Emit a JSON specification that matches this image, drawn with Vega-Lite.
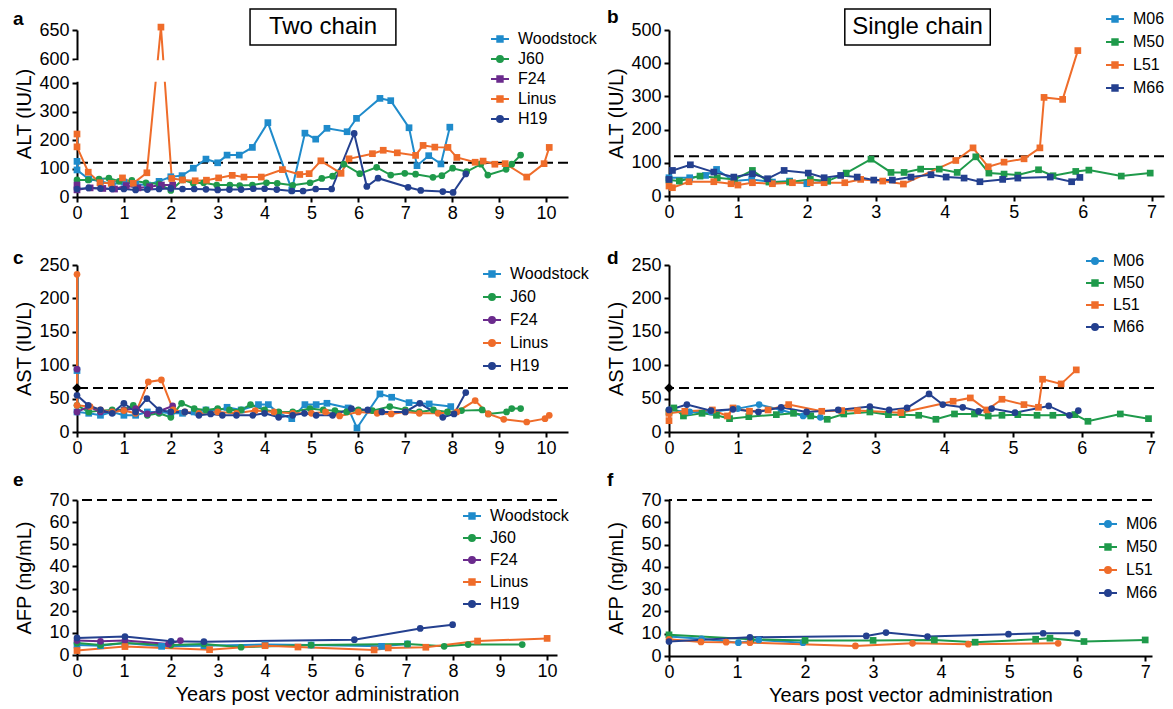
{
"$schema": "https://vega.github.io/schema/vega-lite/v6.json",
"padding": {"left": 13, "top": 8, "right": 0, "bottom": 0},
"config": {
  "font": "Liberation Sans",
  "view": {"stroke": null},
  "axis": {"domainColor": "black", "domainWidth": 2, "tickColor": "black", "tickWidth": 2, "tickSize": 5, "labelFontSize": 18, "labelColor": "black", "titleFontSize": 20, "titleFontWeight": "normal", "titleColor": "black", "grid": false, "labelFlush": false, "labelOverlap": false, "zindex": 0, "format": "d", "tickCount": 30},
  "axisX": {"labelPadding": 2, "titlePadding": 4},
  "axisY": {"labelPadding": 3, "titlePadding": 4},
  "title": {"fontSize": 19, "fontWeight": "bold", "color": "black", "offset": 0, "anchor": "start", "frame": "group"},
  "legend": {"labelFontSize": 16, "labelColor": "black", "padding": 0, "symbolStrokeWidth": 2, "symbolSize": 324, "labelOffset": 8}
},
"datasets": {
"a": [
{"s":"Woodstock","t":0,"v":125},{"s":"Woodstock","t":0,"v":95},{"s":"Woodstock","t":0.25,"v":63},{"s":"Woodstock","t":0.5,"v":55},{"s":"Woodstock","t":0.75,"v":45},{"s":"Woodstock","t":1,"v":52},{"s":"Woodstock","t":1.25,"v":45},{"s":"Woodstock","t":1.5,"v":42},{"s":"Woodstock","t":1.75,"v":55},{"s":"Woodstock","t":2,"v":71},{"s":"Woodstock","t":2.24,"v":75},{"s":"Woodstock","t":2.48,"v":101},{"s":"Woodstock","t":2.75,"v":133},{"s":"Woodstock","t":3,"v":120},{"s":"Woodstock","t":3.2,"v":147},{"s":"Woodstock","t":3.46,"v":147},{"s":"Woodstock","t":3.74,"v":174},{"s":"Woodstock","t":4.07,"v":261},{"s":"Woodstock","t":4.58,"v":25},{"s":"Woodstock","t":4.86,"v":224},{"s":"Woodstock","t":5.09,"v":203},{"s":"Woodstock","t":5.33,"v":241},{"s":"Woodstock","t":5.76,"v":229},{"s":"Woodstock","t":5.96,"v":276},{"s":"Woodstock","t":6.46,"v":346},{"s":"Woodstock","t":6.69,"v":338},{"s":"Woodstock","t":7.08,"v":243},{"s":"Woodstock","t":7.25,"v":110},{"s":"Woodstock","t":7.5,"v":145},{"s":"Woodstock","t":7.76,"v":116},{"s":"Woodstock","t":7.95,"v":245},
{"s":"J60","t":0,"v":60},{"s":"J60","t":0.24,"v":60},{"s":"J60","t":0.47,"v":63},{"s":"J60","t":0.68,"v":66},{"s":"J60","t":0.9,"v":55},{"s":"J60","t":1.17,"v":58},{"s":"J60","t":1.47,"v":50},{"s":"J60","t":1.75,"v":46},{"s":"J60","t":2,"v":23},{"s":"J60","t":2.25,"v":60},{"s":"J60","t":2.48,"v":48},{"s":"J60","t":2.7,"v":50},{"s":"J60","t":2.98,"v":42},{"s":"J60","t":3.26,"v":42},{"s":"J60","t":3.47,"v":40},{"s":"J60","t":3.74,"v":42},{"s":"J60","t":4.04,"v":50},{"s":"J60","t":4.27,"v":48},{"s":"J60","t":4.6,"v":41},{"s":"J60","t":4.97,"v":50},{"s":"J60","t":5.22,"v":65},{"s":"J60","t":5.45,"v":73},{"s":"J60","t":5.69,"v":115},{"s":"J60","t":6.03,"v":82},{"s":"J60","t":6.39,"v":104},{"s":"J60","t":6.69,"v":77},{"s":"J60","t":6.99,"v":83},{"s":"J60","t":7.22,"v":80},{"s":"J60","t":7.59,"v":69},{"s":"J60","t":7.78,"v":75},{"s":"J60","t":8.01,"v":101},{"s":"J60","t":8.31,"v":89},{"s":"J60","t":8.61,"v":115},{"s":"J60","t":8.76,"v":77},{"s":"J60","t":9.15,"v":97},{"s":"J60","t":9.27,"v":115},{"s":"J60","t":9.46,"v":147},
{"s":"F24","t":0,"v":42},{"s":"F24","t":0,"v":25},{"s":"F24","t":0.28,"v":32},{"s":"F24","t":0.55,"v":30},{"s":"F24","t":0.8,"v":28},{"s":"F24","t":1.05,"v":40},{"s":"F24","t":1.3,"v":32},{"s":"F24","t":1.55,"v":36},{"s":"F24","t":1.8,"v":42},{"s":"F24","t":2.04,"v":42},
{"s":"Linus","t":0,"v":221},{"s":"Linus","t":0,"v":176},{"s":"Linus","t":0.24,"v":87},{"s":"Linus","t":0.49,"v":50},{"s":"Linus","t":0.73,"v":48},{"s":"Linus","t":0.97,"v":67},{"s":"Linus","t":1.2,"v":48},{"s":"Linus","t":1.49,"v":85},{"s":"Linus","t":1.79,"v":655},{"s":"Linus","t":2.02,"v":65},{"s":"Linus","t":2.25,"v":60},{"s":"Linus","t":2.52,"v":57},{"s":"Linus","t":2.76,"v":59},{"s":"Linus","t":3.02,"v":67},{"s":"Linus","t":3.31,"v":76},{"s":"Linus","t":3.56,"v":70},{"s":"Linus","t":3.93,"v":70},{"s":"Linus","t":4.38,"v":96},{"s":"Linus","t":4.75,"v":79},{"s":"Linus","t":4.95,"v":82},{"s":"Linus","t":5.2,"v":127},{"s":"Linus","t":5.63,"v":83},{"s":"Linus","t":5.8,"v":134},{"s":"Linus","t":6.3,"v":152},{"s":"Linus","t":6.53,"v":164},{"s":"Linus","t":6.83,"v":155},{"s":"Linus","t":7.22,"v":146},{"s":"Linus","t":7.38,"v":181},{"s":"Linus","t":7.63,"v":175},{"s":"Linus","t":7.91,"v":174},{"s":"Linus","t":8.1,"v":139},{"s":"Linus","t":8.49,"v":122},{"s":"Linus","t":8.66,"v":126},{"s":"Linus","t":8.91,"v":115},{"s":"Linus","t":9.13,"v":117},{"s":"Linus","t":9.59,"v":70},{"s":"Linus","t":9.96,"v":117},{"s":"Linus","t":10.07,"v":174},
{"s":"H19","t":0,"v":28},{"s":"H19","t":0.25,"v":32},{"s":"H19","t":0.5,"v":30},{"s":"H19","t":0.75,"v":28},{"s":"H19","t":1,"v":28},{"s":"H19","t":1.25,"v":25},{"s":"H19","t":1.5,"v":26},{"s":"H19","t":1.75,"v":28},{"s":"H19","t":2,"v":30},{"s":"H19","t":2.25,"v":28},{"s":"H19","t":2.5,"v":28},{"s":"H19","t":2.75,"v":27},{"s":"H19","t":3,"v":25},{"s":"H19","t":3.25,"v":26},{"s":"H19","t":3.5,"v":26},{"s":"H19","t":3.76,"v":29},{"s":"H19","t":4,"v":29},{"s":"H19","t":4.26,"v":26},{"s":"H19","t":4.58,"v":21},{"s":"H19","t":4.82,"v":21},{"s":"H19","t":5.09,"v":28},{"s":"H19","t":5.43,"v":28},{"s":"H19","t":5.91,"v":223},{"s":"H19","t":6.18,"v":37},{"s":"H19","t":6.42,"v":66},{"s":"H19","t":7.06,"v":34},{"s":"H19","t":7.33,"v":23},{"s":"H19","t":7.8,"v":19},{"s":"H19","t":8.02,"v":16},{"s":"H19","t":8.29,"v":81}
],
"b": [
{"s":"M06","t":0,"v":55},{"s":"M06","t":0.3,"v":55},{"s":"M06","t":0.53,"v":62},{"s":"M06","t":0.69,"v":80},{"s":"M06","t":0.94,"v":45},{"s":"M06","t":1.2,"v":50},{"s":"M06","t":1.5,"v":42},{"s":"M06","t":1.75,"v":45},{"s":"M06","t":2,"v":37},{"s":"M06","t":2.3,"v":45},
{"s":"M50","t":0,"v":48},{"s":"M50","t":0.15,"v":45},{"s":"M50","t":0.45,"v":60},{"s":"M50","t":0.7,"v":55},{"s":"M50","t":0.95,"v":50},{"s":"M50","t":1.21,"v":77},{"s":"M50","t":1.45,"v":42},{"s":"M50","t":1.75,"v":42},{"s":"M50","t":2.05,"v":50},{"s":"M50","t":2.3,"v":45},{"s":"M50","t":2.57,"v":69},{"s":"M50","t":2.93,"v":111},{"s":"M50","t":3.22,"v":71},{"s":"M50","t":3.41,"v":71},{"s":"M50","t":3.65,"v":81},{"s":"M50","t":3.92,"v":81},{"s":"M50","t":4.18,"v":71},{"s":"M50","t":4.45,"v":118},{"s":"M50","t":4.64,"v":69},{"s":"M50","t":4.86,"v":66},{"s":"M50","t":5.06,"v":63},{"s":"M50","t":5.36,"v":79},{"s":"M50","t":5.57,"v":61},{"s":"M50","t":5.9,"v":74},{"s":"M50","t":6.09,"v":78},{"s":"M50","t":6.56,"v":60},{"s":"M50","t":6.98,"v":69},
{"s":"L51","t":0,"v":30},{"s":"L51","t":0.05,"v":25},{"s":"L51","t":0.29,"v":43},{"s":"L51","t":0.65,"v":43},{"s":"L51","t":0.9,"v":37},{"s":"L51","t":1,"v":33},{"s":"L51","t":1.21,"v":40},{"s":"L51","t":1.5,"v":37},{"s":"L51","t":1.79,"v":40},{"s":"L51","t":2.05,"v":40},{"s":"L51","t":2.25,"v":40},{"s":"L51","t":2.55,"v":40},{"s":"L51","t":2.78,"v":50},{"s":"L51","t":3.1,"v":45},{"s":"L51","t":3.4,"v":36},{"s":"L51","t":4.16,"v":107},{"s":"L51","t":4.41,"v":145},{"s":"L51","t":4.63,"v":88},{"s":"L51","t":4.86,"v":102},{"s":"L51","t":5.15,"v":112},{"s":"L51","t":5.38,"v":145},{"s":"L51","t":5.44,"v":297},{"s":"L51","t":5.71,"v":291},{"s":"L51","t":5.93,"v":438},
{"s":"M66","t":0,"v":50},{"s":"M66","t":0.05,"v":77},{"s":"M66","t":0.31,"v":94},{"s":"M66","t":0.65,"v":72},{"s":"M66","t":0.94,"v":57},{"s":"M66","t":1.21,"v":67},{"s":"M66","t":1.43,"v":52},{"s":"M66","t":1.67,"v":77},{"s":"M66","t":2.02,"v":69},{"s":"M66","t":2.25,"v":55},{"s":"M66","t":2.49,"v":62},{"s":"M66","t":2.73,"v":57},{"s":"M66","t":2.97,"v":48},{"s":"M66","t":3.24,"v":48},{"s":"M66","t":3.51,"v":57},{"s":"M66","t":3.8,"v":64},{"s":"M66","t":4.02,"v":57},{"s":"M66","t":4.28,"v":54},{"s":"M66","t":4.51,"v":43},{"s":"M66","t":4.84,"v":50},{"s":"M66","t":5.06,"v":54},{"s":"M66","t":5.53,"v":57},{"s":"M66","t":5.84,"v":43},{"s":"M66","t":5.96,"v":56}
],
"c": [
{"s":"Woodstock","t":0,"v":92},{"s":"Woodstock","t":0,"v":30},{"s":"Woodstock","t":0.25,"v":28},{"s":"Woodstock","t":0.5,"v":25},{"s":"Woodstock","t":0.75,"v":30},{"s":"Woodstock","t":1,"v":25},{"s":"Woodstock","t":1.25,"v":25},{"s":"Woodstock","t":1.5,"v":30},{"s":"Woodstock","t":1.75,"v":30},{"s":"Woodstock","t":2,"v":28},{"s":"Woodstock","t":2.25,"v":28},{"s":"Woodstock","t":2.5,"v":30},{"s":"Woodstock","t":2.75,"v":33},{"s":"Woodstock","t":3,"v":32},{"s":"Woodstock","t":3.2,"v":37},{"s":"Woodstock","t":3.5,"v":33},{"s":"Woodstock","t":3.87,"v":41},{"s":"Woodstock","t":4.08,"v":41},{"s":"Woodstock","t":4.3,"v":28},{"s":"Woodstock","t":4.58,"v":20},{"s":"Woodstock","t":4.86,"v":41},{"s":"Woodstock","t":5.1,"v":41},{"s":"Woodstock","t":5.33,"v":43},{"s":"Woodstock","t":5.78,"v":36},{"s":"Woodstock","t":5.97,"v":6},{"s":"Woodstock","t":6.46,"v":57},{"s":"Woodstock","t":6.71,"v":52},{"s":"Woodstock","t":7.08,"v":44},{"s":"Woodstock","t":7.51,"v":42},{"s":"Woodstock","t":7.97,"v":38},
{"s":"J60","t":0,"v":40},{"s":"J60","t":0.25,"v":30},{"s":"J60","t":0.5,"v":32},{"s":"J60","t":0.75,"v":33},{"s":"J60","t":1,"v":33},{"s":"J60","t":1.2,"v":40},{"s":"J60","t":1.5,"v":25},{"s":"J60","t":1.75,"v":28},{"s":"J60","t":2,"v":22},{"s":"J60","t":2.23,"v":43},{"s":"J60","t":2.5,"v":35},{"s":"J60","t":2.75,"v":33},{"s":"J60","t":3,"v":35},{"s":"J60","t":3.25,"v":33},{"s":"J60","t":3.5,"v":33},{"s":"J60","t":3.7,"v":41},{"s":"J60","t":4,"v":33},{"s":"J60","t":4.3,"v":30},{"s":"J60","t":4.6,"v":30},{"s":"J60","t":4.97,"v":35},{"s":"J60","t":5.25,"v":33},{"s":"J60","t":5.5,"v":32},{"s":"J60","t":5.75,"v":30},{"s":"J60","t":6,"v":33},{"s":"J60","t":6.3,"v":32},{"s":"J60","t":6.67,"v":38},{"s":"J60","t":7,"v":33},{"s":"J60","t":7.3,"v":30},{"s":"J60","t":7.6,"v":33},{"s":"J60","t":7.9,"v":30},{"s":"J60","t":8.2,"v":32},{"s":"J60","t":8.64,"v":33},{"s":"J60","t":8.77,"v":27},{"s":"J60","t":9.16,"v":30},{"s":"J60","t":9.27,"v":35},{"s":"J60","t":9.46,"v":35},
{"s":"F24","t":0,"v":94},{"s":"F24","t":0,"v":30},{"s":"F24","t":0.25,"v":38},{"s":"F24","t":0.5,"v":30},{"s":"F24","t":0.75,"v":30},{"s":"F24","t":1,"v":33},{"s":"F24","t":1.25,"v":35},{"s":"F24","t":1.5,"v":27},{"s":"F24","t":1.75,"v":31},{"s":"F24","t":2.04,"v":39},
{"s":"Linus","t":0,"v":236},{"s":"Linus","t":0,"v":40},{"s":"Linus","t":0.28,"v":38},{"s":"Linus","t":0.5,"v":33},{"s":"Linus","t":0.75,"v":30},{"s":"Linus","t":1,"v":32},{"s":"Linus","t":1.25,"v":28},{"s":"Linus","t":1.52,"v":75},{"s":"Linus","t":1.8,"v":78},{"s":"Linus","t":2.05,"v":33},{"s":"Linus","t":2.3,"v":30},{"s":"Linus","t":2.6,"v":28},{"s":"Linus","t":3,"v":30},{"s":"Linus","t":3.4,"v":28},{"s":"Linus","t":3.8,"v":32},{"s":"Linus","t":4.2,"v":30},{"s":"Linus","t":4.6,"v":28},{"s":"Linus","t":5,"v":28},{"s":"Linus","t":5.3,"v":30},{"s":"Linus","t":5.6,"v":24},{"s":"Linus","t":6,"v":30},{"s":"Linus","t":6.4,"v":28},{"s":"Linus","t":6.7,"v":27},{"s":"Linus","t":7,"v":30},{"s":"Linus","t":7.3,"v":28},{"s":"Linus","t":7.7,"v":28},{"s":"Linus","t":8.1,"v":30},{"s":"Linus","t":8.49,"v":47},{"s":"Linus","t":8.77,"v":27},{"s":"Linus","t":9.1,"v":19},{"s":"Linus","t":9.59,"v":15},{"s":"Linus","t":9.98,"v":20},{"s":"Linus","t":10.07,"v":25},
{"s":"H19","t":0,"v":55},{"s":"H19","t":0.24,"v":40},{"s":"H19","t":0.5,"v":33},{"s":"H19","t":0.75,"v":28},{"s":"H19","t":1,"v":43},{"s":"H19","t":1.25,"v":30},{"s":"H19","t":1.49,"v":50},{"s":"H19","t":1.75,"v":33},{"s":"H19","t":2,"v":30},{"s":"H19","t":2.3,"v":30},{"s":"H19","t":2.6,"v":25},{"s":"H19","t":2.85,"v":27},{"s":"H19","t":3.1,"v":25},{"s":"H19","t":3.4,"v":25},{"s":"H19","t":3.75,"v":25},{"s":"H19","t":4,"v":28},{"s":"H19","t":4.3,"v":22},{"s":"H19","t":4.6,"v":25},{"s":"H19","t":4.85,"v":28},{"s":"H19","t":5.1,"v":25},{"s":"H19","t":5.45,"v":25},{"s":"H19","t":5.85,"v":35},{"s":"H19","t":6.2,"v":33},{"s":"H19","t":6.5,"v":30},{"s":"H19","t":7,"v":30},{"s":"H19","t":7.31,"v":43},{"s":"H19","t":7.8,"v":22},{"s":"H19","t":8.04,"v":27},{"s":"H19","t":8.29,"v":59}
],
"d": [
{"s":"M06","t":0,"v":33},{"s":"M06","t":0.3,"v":30},{"s":"M06","t":0.61,"v":30},{"s":"M06","t":1,"v":35},{"s":"M06","t":1.31,"v":41},{"s":"M06","t":1.63,"v":33},{"s":"M06","t":1.95,"v":24},{"s":"M06","t":2.2,"v":22},
{"s":"M50","t":0,"v":30},{"s":"M50","t":0.07,"v":36},{"s":"M50","t":0.21,"v":24},{"s":"M50","t":0.48,"v":28},{"s":"M50","t":0.69,"v":25},{"s":"M50","t":0.88,"v":20},{"s":"M50","t":1.16,"v":23},{"s":"M50","t":1.56,"v":26},{"s":"M50","t":1.81,"v":28},{"s":"M50","t":2.06,"v":24},{"s":"M50","t":2.3,"v":19},{"s":"M50","t":2.54,"v":27},{"s":"M50","t":2.92,"v":30},{"s":"M50","t":3.19,"v":26},{"s":"M50","t":3.39,"v":26},{"s":"M50","t":3.63,"v":25},{"s":"M50","t":3.88,"v":19},{"s":"M50","t":4.15,"v":27},{"s":"M50","t":4.44,"v":27},{"s":"M50","t":4.64,"v":24},{"s":"M50","t":4.84,"v":25},{"s":"M50","t":5.07,"v":26},{"s":"M50","t":5.35,"v":25},{"s":"M50","t":5.58,"v":25},{"s":"M50","t":5.9,"v":26},{"s":"M50","t":6.09,"v":16},{"s":"M50","t":6.56,"v":27},{"s":"M50","t":6.97,"v":20},
{"s":"L51","t":0,"v":17},{"s":"L51","t":0,"v":28},{"s":"L51","t":0.23,"v":31},{"s":"L51","t":0.63,"v":33},{"s":"L51","t":0.85,"v":24},{"s":"L51","t":0.93,"v":36},{"s":"L51","t":1.17,"v":31},{"s":"L51","t":1.44,"v":33},{"s":"L51","t":1.74,"v":41},{"s":"L51","t":2.22,"v":31},{"s":"L51","t":2.51,"v":32},{"s":"L51","t":2.74,"v":32},{"s":"L51","t":3.37,"v":29},{"s":"L51","t":4.13,"v":46},{"s":"L51","t":4.38,"v":51},{"s":"L51","t":4.62,"v":33},{"s":"L51","t":4.84,"v":49},{"s":"L51","t":5.16,"v":41},{"s":"L51","t":5.37,"v":37},{"s":"L51","t":5.43,"v":79},{"s":"L51","t":5.7,"v":72},{"s":"L51","t":5.92,"v":93},
{"s":"M66","t":0,"v":33},{"s":"M66","t":0.26,"v":41},{"s":"M66","t":0.61,"v":32},{"s":"M66","t":0.93,"v":34},{"s":"M66","t":1.3,"v":30},{"s":"M66","t":1.63,"v":37},{"s":"M66","t":2,"v":30},{"s":"M66","t":2.46,"v":33},{"s":"M66","t":2.92,"v":38},{"s":"M66","t":3.2,"v":33},{"s":"M66","t":3.46,"v":36},{"s":"M66","t":3.78,"v":57},{"s":"M66","t":3.98,"v":41},{"s":"M66","t":4.27,"v":37},{"s":"M66","t":4.5,"v":31},{"s":"M66","t":4.69,"v":35},{"s":"M66","t":5.03,"v":29},{"s":"M66","t":5.52,"v":39},{"s":"M66","t":5.82,"v":25},{"s":"M66","t":5.95,"v":32}
],
"e": [
{"s":"Woodstock","t":0,"v":4.5},{"s":"Woodstock","t":0.5,"v":4.2},{"s":"Woodstock","t":1.02,"v":5.4},{"s":"Woodstock","t":1.8,"v":3.9},{"s":"Woodstock","t":2.7,"v":4.2},{"s":"Woodstock","t":4,"v":4.7},{"s":"Woodstock","t":4.98,"v":4.5},{"s":"Woodstock","t":6.48,"v":3.9},{"s":"Woodstock","t":7.03,"v":5},
{"s":"J60","t":0,"v":5.4},{"s":"J60","t":0.5,"v":4.5},{"s":"J60","t":1.02,"v":5.4},{"s":"J60","t":2,"v":4.5},{"s":"J60","t":2.7,"v":5},{"s":"J60","t":3.49,"v":3.5},{"s":"J60","t":4.98,"v":4.5},{"s":"J60","t":7.03,"v":5},{"s":"J60","t":7.81,"v":3.9},{"s":"J60","t":8.32,"v":4.7},{"s":"J60","t":9.47,"v":4.7},
{"s":"F24","t":0,"v":6.5},{"s":"F24","t":0.5,"v":6.2},{"s":"F24","t":1.02,"v":6.6},{"s":"F24","t":1.95,"v":5},{"s":"F24","t":2.2,"v":6.5},
{"s":"Linus","t":0,"v":2},{"s":"Linus","t":1.02,"v":3.8},{"s":"Linus","t":2.82,"v":2.4},{"s":"Linus","t":4,"v":4.2},{"s":"Linus","t":4.7,"v":3.6},{"s":"Linus","t":6.32,"v":2.3},{"s":"Linus","t":6.62,"v":3.2},{"s":"Linus","t":7.42,"v":3.5},{"s":"Linus","t":8.52,"v":6.3},{"s":"Linus","t":10,"v":7.5},
{"s":"H19","t":0,"v":7.7},{"s":"H19","t":1.02,"v":8.3},{"s":"H19","t":2,"v":6.2},{"s":"H19","t":2.7,"v":6},{"s":"H19","t":5.9,"v":6.9},{"s":"H19","t":7.3,"v":12},{"s":"H19","t":7.99,"v":13.7}
],
"f": [
{"s":"M06","t":0,"v":8.7},{"s":"M06","t":0.48,"v":7.7},{"s":"M06","t":1.02,"v":6},{"s":"M06","t":1.32,"v":7.2},{"s":"M06","t":1.97,"v":6},
{"s":"M50","t":0,"v":9.5},{"s":"M50","t":1.2,"v":7.5},{"s":"M50","t":2,"v":7},{"s":"M50","t":3,"v":7},{"s":"M50","t":3.9,"v":7.2},{"s":"M50","t":4.5,"v":6.2},{"s":"M50","t":5.39,"v":7.5},{"s":"M50","t":5.6,"v":8},{"s":"M50","t":6.1,"v":6.5},{"s":"M50","t":7,"v":7.2},
{"s":"L51","t":0,"v":7.5},{"s":"L51","t":0.47,"v":6.3},{"s":"L51","t":0.84,"v":6.2},{"s":"L51","t":1.19,"v":6},{"s":"L51","t":2.74,"v":4.5},{"s":"L51","t":3.58,"v":5.7},{"s":"L51","t":4.4,"v":5.3},{"s":"L51","t":5.72,"v":5.7},
{"s":"M66","t":0,"v":6.5},{"s":"M66","t":1.19,"v":8.4},{"s":"M66","t":2.9,"v":9},{"s":"M66","t":3.19,"v":10.5},{"s":"M66","t":3.8,"v":8.7},{"s":"M66","t":4.99,"v":9.8},{"s":"M66","t":5.5,"v":10.2},{"s":"M66","t":6,"v":10.2}
]
},
"columns": 2,
"spacing": {"row": 68, "column": 101},
"bounds": "flush",
"resolve": {"scale": {"x": "independent", "y": "independent", "color": "independent", "shape": "independent", "fill": "independent", "stroke": "independent"}},
"concat": [
{
 "width": 491, "height": 167,
 "title": {"text": "a", "dx": -64, "dy": 25},
 "layer": [
  {"data": {"values": [{}]}, "mark": {"type": "rule", "strokeDash": [10, 5], "strokeWidth": 2, "color": "black"}, "encoding": {"y": {"datum": 120, "type": "quantitative"}}},
  {"data": {"name": "a"}, "mark": {"type": "line", "strokeWidth": 2}, "encoding": {
    "x": {"field": "t", "type": "quantitative", "scale": {"domain": [0, 10.47], "nice": false}, "axis": {"values": [0,1,2,3,4,5,6,7,8,9,10], "title": null, "labelOverlap": false, "tickCount": 30}},
    "y": {"field": "v", "type": "quantitative", "scale": {"domain": [0, 400, 600, 650], "range": [167, 53, 29, 0], "nice": false}, "axis": {"values": [0,100,200,300,400,600,650], "title": "ALT (IU/L)", "labelOverlap": false, "tickCount": 30}},
    "color": {"field": "s", "type": "nominal", "scale": {"domain": ["Woodstock","J60","F24","Linus","H19"], "range": ["#1f8bcb","#1f9a4b","#6b2b8d","#ef6c2a","#24408f"]}, "legend": null}}},
  {"data": {"name": "a"}, "mark": {"type": "point", "filled": true, "opacity": 1, "size": 45}, "encoding": {
    "x": {"field": "t", "type": "quantitative"},
    "y": {"field": "v", "type": "quantitative"},
    "color": {"field": "s", "type": "nominal", "legend": null},
    "shape": {"field": "s", "type": "nominal", "scale": {"domain": ["Woodstock","J60","F24","Linus","H19"], "range": ["square","circle","square","square","circle"]}, "legend": null}}},
  {"data": {"name": "a"}, "transform": [{"filter": "false"}], "mark": {"type": "point", "filled": true, "opacity": 1, "size": 324, "strokeWidth": 2}, "encoding": {
    "fill": {"field": "s", "type": "nominal", "scale": {"domain": ["Woodstock","J60","F24","Linus","H19"], "range": ["#1f8bcb","#1f9a4b","#6b2b8d","#ef6c2a","#24408f"]}, "legend": {"title": null, "orient": "none", "legendX": 413, "legendY": -1, "direction": "vertical", "rowPadding": 2}},
    "stroke": {"field": "s", "type": "nominal", "scale": {"domain": ["Woodstock","J60","F24","Linus","H19"], "range": ["#1f8bcb","#1f9a4b","#6b2b8d","#ef6c2a","#24408f"]}, "legend": {"title": null, "orient": "none", "legendX": 413, "legendY": -1, "direction": "vertical", "rowPadding": 2}},
    "shape": {"field": "s", "type": "nominal", "scale": {"domain": ["Woodstock","J60","F24","Linus","H19"], "range": ["M-1,0L1,0M-0.3,-0.3L0.3,-0.3L0.3,0.3L-0.3,0.3Z","M-1,0L1,0M-0.33,0A0.33,0.33,0,1,1,0.33,0A0.33,0.33,0,1,1,-0.33,0Z","M-1,0L1,0M-0.3,-0.3L0.3,-0.3L0.3,0.3L-0.3,0.3Z","M-1,0L1,0M-0.3,-0.3L0.3,-0.3L0.3,0.3L-0.3,0.3Z","M-1,0L1,0M-0.33,0A0.33,0.33,0,1,1,0.33,0A0.33,0.33,0,1,1,-0.33,0Z"]}, "legend": {"title": null, "orient": "none", "legendX": 413, "legendY": -1, "direction": "vertical", "rowPadding": 2}}}},
  {"data": {"values": [{}]}, "mark": {"type": "rect", "fill": "white"}, "encoding": {"x": {"datum": -0.05}, "x2": {"datum": 10.47}, "y": {"datum": 410}, "y2": {"datum": 590}}},
  {"data": {"values": [{}]}, "mark": {"type": "rect", "fill": "white", "stroke": "black", "strokeWidth": 1.5}, "encoding": {"x": {"datum": 3.69}, "x2": {"datum": 6.8}, "y": {"datum": 624}, "y2": {"datum": 686}}},
  {"data": {"values": [{}]}, "mark": {"type": "text", "fontSize": 24, "color": "black"}, "encoding": {"x": {"datum": 5.245}, "y": {"datum": 655}, "text": {"value": "Two chain"}}}
 ],
 "resolve": {"scale": {"shape": "independent", "fill": "independent", "stroke": "independent"}}
},
{
 "width": 495, "height": 166,
 "title": {"text": "b", "dx": -62, "dy": 23},
 "layer": [
  {"data": {"values": [{}]}, "mark": {"type": "rule", "strokeDash": [10, 5], "strokeWidth": 2, "color": "black"}, "encoding": {"y": {"datum": 120, "type": "quantitative"}}},
  {"data": {"name": "b"}, "mark": {"type": "line", "strokeWidth": 2}, "encoding": {
    "x": {"field": "t", "type": "quantitative", "scale": {"domain": [0, 7.18], "nice": false}, "axis": {"values": [0,1,2,3,4,5,6,7], "title": null, "labelOverlap": false, "tickCount": 30}},
    "y": {"field": "v", "type": "quantitative", "scale": {"domain": [0, 500], "nice": false}, "axis": {"values": [0,100,200,300,400,500], "title": "ALT (IU/L)", "labelOverlap": false, "tickCount": 30}},
    "color": {"field": "s", "type": "nominal", "scale": {"domain": ["M06","M50","L51","M66"], "range": ["#1f8bcb","#1f9a4b","#ef6c2a","#24408f"]}, "legend": null}}},
  {"data": {"name": "b"}, "mark": {"type": "point", "filled": true, "opacity": 1, "size": 45}, "encoding": {
    "x": {"field": "t", "type": "quantitative"},
    "y": {"field": "v", "type": "quantitative"},
    "color": {"field": "s", "type": "nominal", "legend": null},
    "shape": {"field": "s", "type": "nominal", "scale": {"domain": ["M06","M50","L51","M66"], "range": ["square","square","square","square"]}, "legend": null}}},
  {"data": {"name": "b"}, "transform": [{"filter": "false"}], "mark": {"type": "point", "filled": true, "opacity": 1, "size": 324, "strokeWidth": 2}, "encoding": {
    "fill": {"field": "s", "type": "nominal", "scale": {"domain": ["M06","M50","L51","M66"], "range": ["#1f8bcb","#1f9a4b","#ef6c2a","#24408f"]}, "legend": {"title": null, "orient": "none", "legendX": 436, "legendY": -21, "direction": "vertical", "rowPadding": 5}},
    "stroke": {"field": "s", "type": "nominal", "scale": {"domain": ["M06","M50","L51","M66"], "range": ["#1f8bcb","#1f9a4b","#ef6c2a","#24408f"]}, "legend": {"title": null, "orient": "none", "legendX": 436, "legendY": -21, "direction": "vertical", "rowPadding": 5}},
    "shape": {"field": "s", "type": "nominal", "scale": {"domain": ["M06","M50","L51","M66"], "range": ["M-1,0L1,0M-0.3,-0.3L0.3,-0.3L0.3,0.3L-0.3,0.3Z","M-1,0L1,0M-0.3,-0.3L0.3,-0.3L0.3,0.3L-0.3,0.3Z","M-1,0L1,0M-0.3,-0.3L0.3,-0.3L0.3,0.3L-0.3,0.3Z","M-1,0L1,0M-0.3,-0.3L0.3,-0.3L0.3,0.3L-0.3,0.3Z"]}, "legend": {"title": null, "orient": "none", "legendX": 436, "legendY": -21, "direction": "vertical", "rowPadding": 5}}}},
  {"data": {"values": [{}]}, "mark": {"type": "rect", "fill": "white", "stroke": "black", "strokeWidth": 1.5}, "encoding": {"x": {"datum": 2.55}, "x2": {"datum": 4.66}, "y": {"datum": 455}, "y2": {"datum": 563}}},
  {"data": {"values": [{}]}, "mark": {"type": "text", "fontSize": 24, "color": "black"}, "encoding": {"x": {"datum": 3.605}, "y": {"datum": 509}, "text": {"value": "Single chain"}}}
 ],
 "resolve": {"scale": {"shape": "independent", "fill": "independent", "stroke": "independent"}}
},
{
 "width": 491, "height": 167,
 "title": {"text": "c", "dx": -64, "dy": 16},
 "layer": [
  {"data": {"values": [{}]}, "mark": {"type": "rule", "strokeDash": [10, 5], "strokeWidth": 2, "color": "black"}, "encoding": {"y": {"datum": 66, "type": "quantitative"}}},
  {"data": {"name": "c"}, "mark": {"type": "line", "strokeWidth": 2}, "encoding": {
    "x": {"field": "t", "type": "quantitative", "scale": {"domain": [0, 10.47], "nice": false}, "axis": {"values": [0,1,2,3,4,5,6,7,8,9,10], "title": null, "labelOverlap": false, "tickCount": 30}},
    "y": {"field": "v", "type": "quantitative", "scale": {"domain": [0, 250], "nice": false}, "axis": {"values": [0,50,100,150,200,250], "title": "AST (IU/L)", "labelOverlap": false, "tickCount": 30}},
    "color": {"field": "s", "type": "nominal", "scale": {"domain": ["Woodstock","J60","F24","Linus","H19"], "range": ["#1f8bcb","#1f9a4b","#6b2b8d","#ef6c2a","#24408f"]}, "legend": null}}},
  {"data": {"name": "c"}, "mark": {"type": "point", "filled": true, "opacity": 1, "size": 45}, "encoding": {
    "x": {"field": "t", "type": "quantitative"},
    "y": {"field": "v", "type": "quantitative"},
    "color": {"field": "s", "type": "nominal", "legend": null},
    "shape": {"field": "s", "type": "nominal", "scale": {"domain": ["Woodstock","J60","F24","Linus","H19"], "range": ["square","circle","circle","circle","circle"]}, "legend": null}}},
  {"data": {"name": "c"}, "transform": [{"filter": "false"}], "mark": {"type": "point", "filled": true, "opacity": 1, "size": 324, "strokeWidth": 2}, "encoding": {
    "fill": {"field": "s", "type": "nominal", "scale": {"domain": ["Woodstock","J60","F24","Linus","H19"], "range": ["#1f8bcb","#1f9a4b","#6b2b8d","#ef6c2a","#24408f"]}, "legend": {"title": null, "orient": "none", "legendX": 405, "legendY": -1, "direction": "vertical", "rowPadding": 5}},
    "stroke": {"field": "s", "type": "nominal", "scale": {"domain": ["Woodstock","J60","F24","Linus","H19"], "range": ["#1f8bcb","#1f9a4b","#6b2b8d","#ef6c2a","#24408f"]}, "legend": {"title": null, "orient": "none", "legendX": 405, "legendY": -1, "direction": "vertical", "rowPadding": 5}},
    "shape": {"field": "s", "type": "nominal", "scale": {"domain": ["Woodstock","J60","F24","Linus","H19"], "range": ["M-1,0L1,0M-0.3,-0.3L0.3,-0.3L0.3,0.3L-0.3,0.3Z","M-1,0L1,0M-0.33,0A0.33,0.33,0,1,1,0.33,0A0.33,0.33,0,1,1,-0.33,0Z","M-1,0L1,0M-0.33,0A0.33,0.33,0,1,1,0.33,0A0.33,0.33,0,1,1,-0.33,0Z","M-1,0L1,0M-0.33,0A0.33,0.33,0,1,1,0.33,0A0.33,0.33,0,1,1,-0.33,0Z","M-1,0L1,0M-0.33,0A0.33,0.33,0,1,1,0.33,0A0.33,0.33,0,1,1,-0.33,0Z"]}, "legend": {"title": null, "orient": "none", "legendX": 405, "legendY": -1, "direction": "vertical", "rowPadding": 5}}}},
  {"data": {"values": [{}]}, "mark": {"type": "point", "shape": "diamond", "filled": true, "opacity": 1, "color": "black", "size": 90}, "encoding": {"x": {"datum": 0}, "y": {"datum": 66}}}
 ],
 "resolve": {"scale": {"shape": "independent", "fill": "independent", "stroke": "independent"}}
},
{
 "width": 485, "height": 167,
 "title": {"text": "d", "dx": -62, "dy": 21},
 "layer": [
  {"data": {"values": [{}]}, "mark": {"type": "rule", "strokeDash": [10, 5], "strokeWidth": 2, "color": "black"}, "encoding": {"y": {"datum": 66, "type": "quantitative"}}},
  {"data": {"name": "d"}, "mark": {"type": "line", "strokeWidth": 2}, "encoding": {
    "x": {"field": "t", "type": "quantitative", "scale": {"domain": [0, 7.05], "nice": false}, "axis": {"values": [0,1,2,3,4,5,6,7], "title": null, "labelOverlap": false, "tickCount": 30}},
    "y": {"field": "v", "type": "quantitative", "scale": {"domain": [0, 250], "nice": false}, "axis": {"values": [0,50,100,150,200,250], "title": "AST (IU/L)", "labelOverlap": false, "tickCount": 30}},
    "color": {"field": "s", "type": "nominal", "scale": {"domain": ["M06","M50","L51","M66"], "range": ["#1f8bcb","#1f9a4b","#ef6c2a","#24408f"]}, "legend": null}}},
  {"data": {"name": "d"}, "mark": {"type": "point", "filled": true, "opacity": 1, "size": 45}, "encoding": {
    "x": {"field": "t", "type": "quantitative"},
    "y": {"field": "v", "type": "quantitative"},
    "color": {"field": "s", "type": "nominal", "legend": null},
    "shape": {"field": "s", "type": "nominal", "scale": {"domain": ["M06","M50","L51","M66"], "range": ["circle","square","square","circle"]}, "legend": null}}},
  {"data": {"name": "d"}, "transform": [{"filter": "false"}], "mark": {"type": "point", "filled": true, "opacity": 1, "size": 324, "strokeWidth": 2}, "encoding": {
    "fill": {"field": "s", "type": "nominal", "scale": {"domain": ["M06","M50","L51","M66"], "range": ["#1f8bcb","#1f9a4b","#ef6c2a","#24408f"]}, "legend": {"title": null, "orient": "none", "legendX": 416, "legendY": -14, "direction": "vertical", "rowPadding": 4}},
    "stroke": {"field": "s", "type": "nominal", "scale": {"domain": ["M06","M50","L51","M66"], "range": ["#1f8bcb","#1f9a4b","#ef6c2a","#24408f"]}, "legend": {"title": null, "orient": "none", "legendX": 416, "legendY": -14, "direction": "vertical", "rowPadding": 4}},
    "shape": {"field": "s", "type": "nominal", "scale": {"domain": ["M06","M50","L51","M66"], "range": ["M-1,0L1,0M-0.33,0A0.33,0.33,0,1,1,0.33,0A0.33,0.33,0,1,1,-0.33,0Z","M-1,0L1,0M-0.3,-0.3L0.3,-0.3L0.3,0.3L-0.3,0.3Z","M-1,0L1,0M-0.3,-0.3L0.3,-0.3L0.3,0.3L-0.3,0.3Z","M-1,0L1,0M-0.33,0A0.33,0.33,0,1,1,0.33,0A0.33,0.33,0,1,1,-0.33,0Z"]}, "legend": {"title": null, "orient": "none", "legendX": 416, "legendY": -14, "direction": "vertical", "rowPadding": 4}}}},
  {"data": {"values": [{}]}, "mark": {"type": "point", "shape": "diamond", "filled": true, "opacity": 1, "color": "black", "size": 90}, "encoding": {"x": {"datum": 0}, "y": {"datum": 66}}}
 ],
 "resolve": {"scale": {"shape": "independent", "fill": "independent", "stroke": "independent"}}
},
{
 "width": 480, "height": 155,
 "title": {"text": "e", "dx": -64, "dy": 3},
 "layer": [
  {"data": {"values": [{}]}, "mark": {"type": "rule", "strokeDash": [10, 5], "strokeWidth": 2, "color": "black"}, "encoding": {"y": {"datum": 70, "type": "quantitative"}}},
  {"data": {"name": "e"}, "mark": {"type": "line", "strokeWidth": 2}, "encoding": {
    "x": {"field": "t", "type": "quantitative", "scale": {"domain": [0, 10.21], "nice": false}, "axis": {"values": [0,1,2,3,4,5,6,7,8,9,10], "title": "Years post vector administration", "labelOverlap": false, "tickCount": 30}},
    "y": {"field": "v", "type": "quantitative", "scale": {"domain": [0, 70], "nice": false}, "axis": {"values": [0,10,20,30,40,50,60,70], "title": "AFP (ng/mL)", "titlePadding": 14, "labelOverlap": false, "tickCount": 30}},
    "color": {"field": "s", "type": "nominal", "scale": {"domain": ["Woodstock","J60","F24","Linus","H19"], "range": ["#1f8bcb","#1f9a4b","#6b2b8d","#ef6c2a","#24408f"]}, "legend": null}}},
  {"data": {"name": "e"}, "mark": {"type": "point", "filled": true, "opacity": 1, "size": 45}, "encoding": {
    "x": {"field": "t", "type": "quantitative"},
    "y": {"field": "v", "type": "quantitative"},
    "color": {"field": "s", "type": "nominal", "legend": null},
    "shape": {"field": "s", "type": "nominal", "scale": {"domain": ["Woodstock","J60","F24","Linus","H19"], "range": ["square","circle","circle","square","circle"]}, "legend": null}}},
  {"data": {"name": "e"}, "transform": [{"filter": "false"}], "mark": {"type": "point", "filled": true, "opacity": 1, "size": 324, "strokeWidth": 2}, "encoding": {
    "fill": {"field": "s", "type": "nominal", "scale": {"domain": ["Woodstock","J60","F24","Linus","H19"], "range": ["#1f8bcb","#1f9a4b","#6b2b8d","#ef6c2a","#24408f"]}, "legend": {"title": null, "orient": "none", "legendX": 385, "legendY": 6, "direction": "vertical", "rowPadding": 4}},
    "stroke": {"field": "s", "type": "nominal", "scale": {"domain": ["Woodstock","J60","F24","Linus","H19"], "range": ["#1f8bcb","#1f9a4b","#6b2b8d","#ef6c2a","#24408f"]}, "legend": {"title": null, "orient": "none", "legendX": 385, "legendY": 6, "direction": "vertical", "rowPadding": 4}},
    "shape": {"field": "s", "type": "nominal", "scale": {"domain": ["Woodstock","J60","F24","Linus","H19"], "range": ["M-1,0L1,0M-0.3,-0.3L0.3,-0.3L0.3,0.3L-0.3,0.3Z","M-1,0L1,0M-0.33,0A0.33,0.33,0,1,1,0.33,0A0.33,0.33,0,1,1,-0.33,0Z","M-1,0L1,0M-0.33,0A0.33,0.33,0,1,1,0.33,0A0.33,0.33,0,1,1,-0.33,0Z","M-1,0L1,0M-0.3,-0.3L0.3,-0.3L0.3,0.3L-0.3,0.3Z","M-1,0L1,0M-0.33,0A0.33,0.33,0,1,1,0.33,0A0.33,0.33,0,1,1,-0.33,0Z"]}, "legend": {"title": null, "orient": "none", "legendX": 385, "legendY": 6, "direction": "vertical", "rowPadding": 4}}}}
 ],
 "resolve": {"scale": {"shape": "independent", "fill": "independent", "stroke": "independent"}}
},
{
 "width": 483, "height": 156,
 "title": {"text": "f", "dx": -62, "dy": 3},
 "layer": [
  {"data": {"values": [{}]}, "mark": {"type": "rule", "strokeDash": [10, 5], "strokeWidth": 2, "color": "black"}, "encoding": {"y": {"datum": 70, "type": "quantitative"}}},
  {"data": {"name": "f"}, "mark": {"type": "line", "strokeWidth": 2}, "encoding": {
    "x": {"field": "t", "type": "quantitative", "scale": {"domain": [0, 7.1], "nice": false}, "axis": {"values": [0,1,2,3,4,5,6,7], "title": "Years post vector administration", "labelOverlap": false, "tickCount": 30}},
    "y": {"field": "v", "type": "quantitative", "scale": {"domain": [0, 70], "nice": false}, "axis": {"values": [0,10,20,30,40,50,60,70], "title": "AFP (ng/mL)", "titlePadding": 14, "labelOverlap": false, "tickCount": 30}},
    "color": {"field": "s", "type": "nominal", "scale": {"domain": ["M06","M50","L51","M66"], "range": ["#1f8bcb","#1f9a4b","#ef6c2a","#24408f"]}, "legend": null}}},
  {"data": {"name": "f"}, "mark": {"type": "point", "filled": true, "opacity": 1, "size": 45}, "encoding": {
    "x": {"field": "t", "type": "quantitative"},
    "y": {"field": "v", "type": "quantitative"},
    "color": {"field": "s", "type": "nominal", "legend": null},
    "shape": {"field": "s", "type": "nominal", "scale": {"domain": ["M06","M50","L51","M66"], "range": ["circle","square","circle","circle"]}, "legend": null}}},
  {"data": {"name": "f"}, "transform": [{"filter": "false"}], "mark": {"type": "point", "filled": true, "opacity": 1, "size": 324, "strokeWidth": 2}, "encoding": {
    "fill": {"field": "s", "type": "nominal", "scale": {"domain": ["M06","M50","L51","M66"], "range": ["#1f8bcb","#1f9a4b","#ef6c2a","#24408f"]}, "legend": {"title": null, "orient": "none", "legendX": 429, "legendY": 14, "direction": "vertical", "rowPadding": 5}},
    "stroke": {"field": "s", "type": "nominal", "scale": {"domain": ["M06","M50","L51","M66"], "range": ["#1f8bcb","#1f9a4b","#ef6c2a","#24408f"]}, "legend": {"title": null, "orient": "none", "legendX": 429, "legendY": 14, "direction": "vertical", "rowPadding": 5}},
    "shape": {"field": "s", "type": "nominal", "scale": {"domain": ["M06","M50","L51","M66"], "range": ["M-1,0L1,0M-0.33,0A0.33,0.33,0,1,1,0.33,0A0.33,0.33,0,1,1,-0.33,0Z","M-1,0L1,0M-0.3,-0.3L0.3,-0.3L0.3,0.3L-0.3,0.3Z","M-1,0L1,0M-0.33,0A0.33,0.33,0,1,1,0.33,0A0.33,0.33,0,1,1,-0.33,0Z","M-1,0L1,0M-0.33,0A0.33,0.33,0,1,1,0.33,0A0.33,0.33,0,1,1,-0.33,0Z"]}, "legend": {"title": null, "orient": "none", "legendX": 429, "legendY": 14, "direction": "vertical", "rowPadding": 5}}}}
 ],
 "resolve": {"scale": {"shape": "independent", "fill": "independent", "stroke": "independent"}}
}
]
}
